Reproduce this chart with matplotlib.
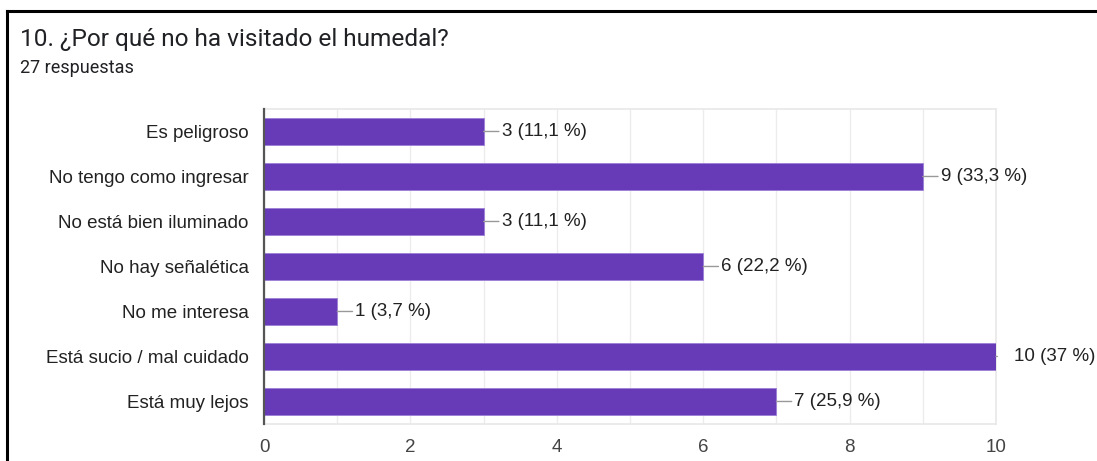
import matplotlib
matplotlib.use("Agg")
import matplotlib.pyplot as plt
from matplotlib.lines import Line2D

# data
categories = ["Es peligroso", "No tengo como ingresar", "No está bien iluminado",
              "No hay señalética", "No me interesa", "Está sucio / mal cuidado",
              "Está muy lejos"]
counts = [3, 9, 3, 6, 1, 10, 7]
percents = ["11,1", "33,3", "11,1", "22,2", "3,7", "37", "25,9"]
x_ticks = [0, 2, 4, 6, 8, 10]
title = "10. ¿Por qué no ha visitado el humedal?"
subtitle = "27 respuestas"

plt.rcParams['font.family'] = ['Liberation Sans', 'DejaVu Sans']

fig = plt.figure(figsize=(10.97, 4.61), dpi=100)
ax = fig.add_axes([0.2407, 0.0803, 0.9079 - 0.2407, 0.7636 - 0.0803])

ypos = list(range(len(categories)))
ax.barh(ypos, counts, height=0.6, color="#673ab7", edgecolor="#9c7fd6",
        linewidth=0.6, zorder=3)
ax.set_ylim(len(categories) - 0.5, -0.5)
ax.set_xlim(0, 10)

ax.set_xticks(range(0, 11), minor=True)
ax.set_xticks(x_ticks)
ax.grid(axis="x", which="both", color="#ececec", linewidth=1.0, zorder=0)
ax.tick_params(axis="both", which="both", length=0)
ax.tick_params(axis="x", labelsize=13.5, colors="#444444", pad=11)
ax.tick_params(axis="y", labelsize=13.5, colors="#222222", pad=11)
ax.set_yticks(ypos)
ax.set_yticklabels(categories)

for side in ["top", "right", "bottom"]:
    ax.spines[side].set_color("#e8e8e8")
    ax.spines[side].set_linewidth(1.2)
ax.spines["left"].set_color("#555555")
ax.spines["left"].set_linewidth(1.6)
ax.spines["left"].set_zorder(4)

for y, c, p in zip(ypos, counts, percents):
    # the label past the axis end only keeps a tiny stub
    shrink = 10 if c >= 10 else 0
    ax.annotate(f"{c} ({p} %)", xy=(c, y), xytext=(13, 0),
                textcoords="offset points", va="center", ha="left",
                fontsize=13.5, color="#222222", annotation_clip=False,
                arrowprops=dict(arrowstyle="-", color="#999999", lw=1.0,
                                shrinkA=shrink, shrinkB=0))

fig.text(0.018, 0.915, title, fontsize=17.6, color="#202124",
         family=['Roboto', 'DejaVu Sans'], va="center")
fig.text(0.018, 0.853, subtitle, fontsize=13, color="#202124",
         family=['Roboto', 'DejaVu Sans'], va="center")

# screenshot border (top and left)
fig.add_artist(Line2D([0.0068, 1.0], [0.977, 0.977], color="black", lw=2.2,
                      transform=fig.transFigure))
fig.add_artist(Line2D([0.0068, 0.0068], [0.0, 0.977], color="black", lw=2.2,
                      transform=fig.transFigure))

fig.savefig("out.png", dpi=100)
